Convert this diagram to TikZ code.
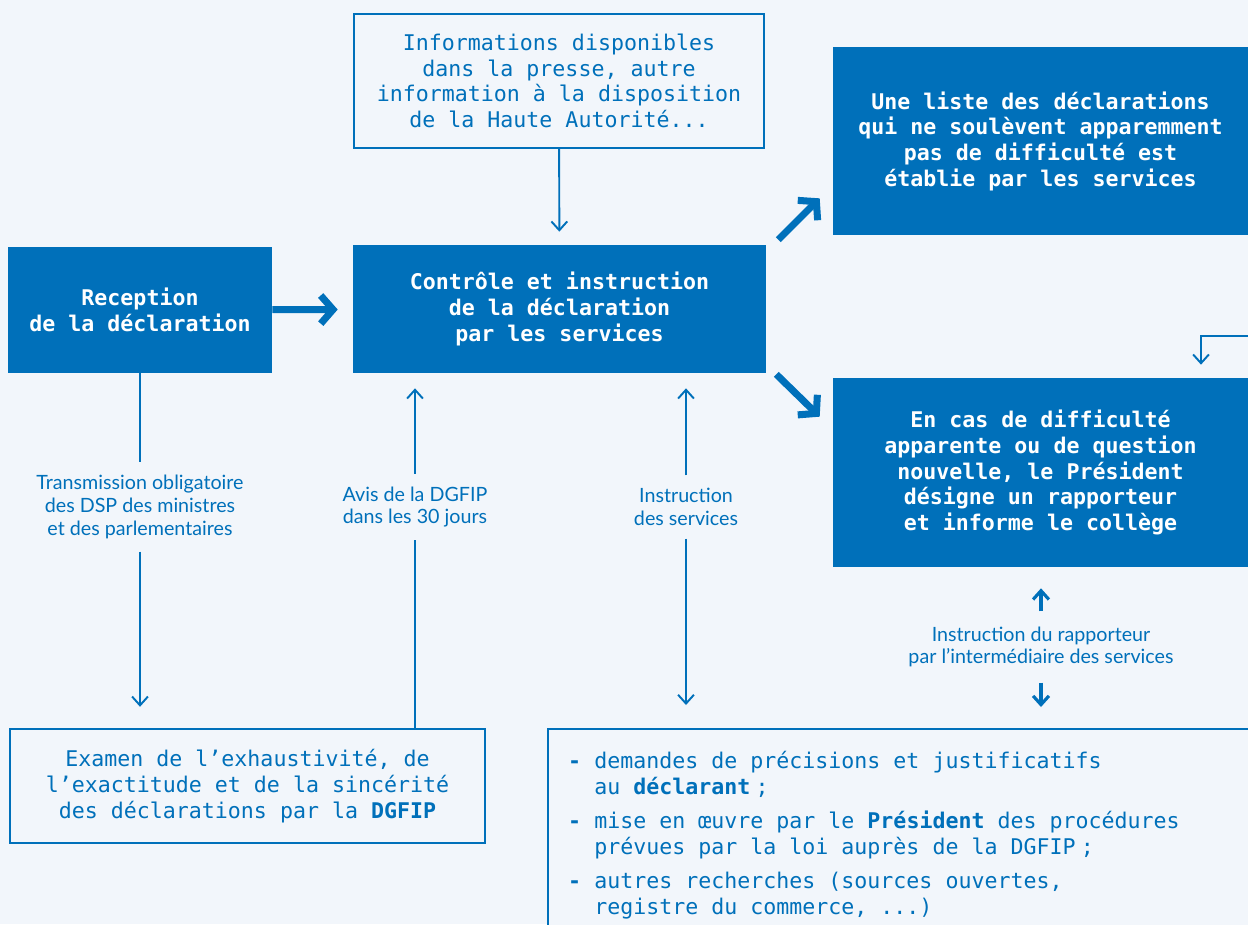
\documentclass[tikz,border=0pt]{standalone}
\usepackage{fontspec}
\setmainfont{Lato}
\setmonofont{DejaVu Sans Mono}
\usetikzlibrary{arrows.meta,positioning}
\definecolor{hatvp}{RGB}{0,112,186}
\definecolor{fond}{RGB}{242,246,251}
\newcommand{\mono}{\fontsize{12.3}{14.6}\selectfont\ttfamily}

\tikzset{
  plein/.style={fill=hatvp, text=white, font=\mono\bfseries, align=center, inner sep=0pt},
  cadre/.style={draw=hatvp, line width=1.4pt, fill=fond, text=hatvp, font=\mono, align=center, inner sep=0pt},
  legende/.style={text=hatvp, font=\fontsize{11.2}{13}\selectfont, align=center, inner xsep=0pt, inner ysep=0.25cm},
  fleche/.style={draw=hatvp, line width=1.1pt, -{Straight Barb[length=5pt,width=9pt]}},
  trait/.style={draw=hatvp, line width=1.1pt},
  grosse/.style={draw=hatvp, line width=4pt, -{Straight Barb[length=7pt,width=16pt]}}
}

\begin{document}
\begin{tikzpicture}[x=0.02cm, y=-0.02cm]
\useasboundingbox (0,0) rectangle (1248,924);
\fill[fond] (0,0) rectangle (1248,924);

% boites
\node[cadre, minimum width=8.2cm, minimum height=2.68cm] (info) at (559,81)
  {Informations disponibles\\dans la presse, autre\\information à la disposition\\de la Haute Autorité...};
\node[plein, minimum width=8.3cm, minimum height=3.76cm] (liste) at (1040.5,141)
  {Une liste des déclarations\\qui ne soulèvent apparemment\\pas de difficulté est\\établie par les services};
\node[plein, minimum width=5.28cm, minimum height=2.52cm] (reception) at (140,310)
  {Reception\\de la déclaration};
\node[plein, minimum width=8.26cm, minimum height=2.56cm] (controle) at (559.5,309)
  {Contrôle et instruction\\de la déclaration\\par les services};
\node[plein, minimum width=8.3cm, minimum height=3.78cm] (difficulte) at (1040.5,472.5)
  {En cas de difficulté\\apparente ou de question\\nouvelle, le Président\\désigne un rapporteur\\et informe le collège};
\node[cadre, minimum width=9.5cm, minimum height=2.28cm] (examen) at (247.5,786)
  {Examen de l’exhaustivité, de\\l’exactitude et de la sincérité\\des déclarations par la \textbf{DGFIP}};
\node[cadre, anchor=north west, align=left, text width=13.5cm, inner xsep=0.4cm,
  minimum width=14.3cm, minimum height=4.24cm] (recherches) at (547,728)
  {\spaceskip=0pt\xspaceskip=0pt
   \textbf{-} demandes de précisions et justificatifs\\
   \phantom{--}au \textbf{déclarant}\kern3pt;\\[5pt]
   \textbf{-} mise en œuvre par le \textbf{Président} des procédures\\
   \phantom{--}prévues par la loi auprès de la DGFIP\kern3pt;\\[5pt]
   \textbf{-} autres recherches (sources ouvertes,\\
   \phantom{--}registre du commerce, ...)};

% legendes
\node[legende] (trans) at (140,507) {Transmission obligatoire\\des DSP des ministres\\et des parlementaires};
\node[legende] (avis) at (415,507) {Avis de la DGFIP\\dans les 30 jours};
\node[legende] (instr) at (686,507) {Instruction\\des services};
\node[legende, inner ysep=0.3cm] (rapp) at (1041,647) {Instruction du rapporteur\\par l’intermédiaire des services};

\coordinate (renvoi) at (1252,336);
\coordinate (coude) at (1201,336);

% fleches
\draw[grosse, shorten >=15*0.02cm] (reception) -- (controle);
\draw[fleche, shorten >=13*0.02cm] (info) -- (controle);
\draw[grosse] ([shift={(12,-5)}]controle.north east) -- ([shift={(-13,-37)}]liste.south west);
\draw[grosse] ([shift={(10,1)}]controle.south east) -- ([shift={(-13,39)}]difficulte.north west);
\draw[fleche, shorten >=13*0.02cm] (renvoi) -- (coude) -- (coude |- difficulte.north);

\draw[trait] (reception.south) -- (trans.north);
\draw[fleche, shorten >=21*0.02cm] (trans.south) -- (trans |- examen.north);
\draw[trait] (avis |- examen.north) -- (avis.south);
\draw[fleche, shorten >=15*0.02cm] (avis.north) -- (avis |- controle.south);
\draw[fleche, shorten >=15*0.02cm] (instr.north) -- (instr |- controle.south);
\draw[fleche, shorten >=23*0.02cm] (instr.south) -- (instr |- recherches.north);
\draw[fleche, line width=1.8pt, shorten >=21*0.02cm] (rapp.north) -- (rapp |- difficulte.south);
\draw[fleche, line width=1.8pt, shorten >=21*0.02cm] (rapp.south) -- (rapp |- recherches.north);
\end{tikzpicture}
\end{document}
